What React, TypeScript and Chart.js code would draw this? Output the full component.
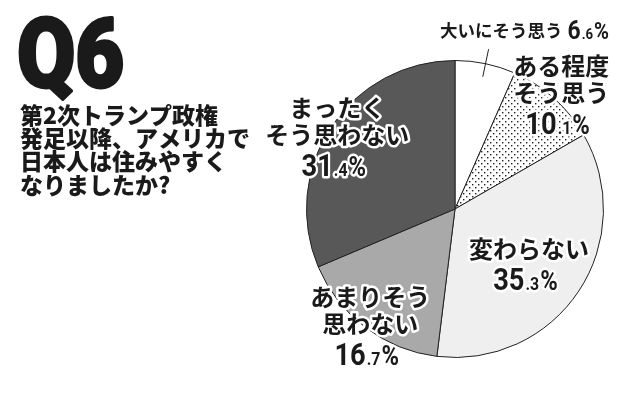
import React, { useEffect, useRef } from "react";
import { Chart, registerables } from "chart.js";

Chart.register(...registerables);

const categories = ["大いにそう思う", "ある程度そう思う", "変わらない", "あまりそう思わない", "まったくそう思わない"];
const values = [6.6, 10.1, 35.3, 16.7, 31.4];
const labelLines = [["大いにそう思う"], ["ある程度", "そう思う"], ["変わらない"], ["あまりそう", "思わない"], ["まったく", "そう思わない"]];
const sliceColors = ["#ffffff", "pattern", "#efefef", "#a9a9a9", "#585858"];
const titleText = "Q6";
const questionLines = ["第2次トランプ政権", "発足以降、アメリカで", "日本人は住みやすく", "なりましたか?"];

const JP = '"Noto Sans CJK JP", "Noto Sans", sans-serif';
const NUM = 'Roboto, "Liberation Sans", sans-serif';

function makePattern(): CanvasPattern | string {
  const c = document.createElement("canvas");
  c.width = 6;
  c.height = 6;
  const g = c.getContext("2d");
  if (!g) return "#ddd";
  g.fillStyle = "#ffffff";
  g.fillRect(0, 0, 6, 6);
  g.fillStyle = "#222";
  g.fillRect(1, 1, 1.4, 1.4);
  g.fillRect(4, 4, 1.4, 1.4);
  return g.createPattern(c, "repeat") || "#ddd";
}

function drawHalo(ctx: CanvasRenderingContext2D, text: string, x: number, y: number, halo: boolean) {
  if (halo) {
    ctx.save();
    ctx.strokeStyle = "#ffffff";
    ctx.lineWidth = 5;
    ctx.lineJoin = "round";
    ctx.strokeText(text, x, y);
    ctx.restore();
  }
  ctx.fillText(text, x, y);
}

function drawNumber(ctx: CanvasRenderingContext2D, v: number, cx: number, cy: number, halo: boolean, left = false, k = 1) {
  const s = v.toFixed(1);
  const [ip, dp] = s.split(".");
  const parts = [
    { t: ip, f: `bold ${Math.round(31 * k)}px ${NUM}` },
    { t: "." + dp, f: `bold ${Math.round(18 * k)}px ${NUM}` },
    { t: "%", f: `bold ${Math.round(27 * k)}px ${NUM}` },
  ];
  const sx = 0.88;
  let w = 0;
  for (const p of parts) {
    ctx.font = p.f;
    w += ctx.measureText(p.t).width * sx + 1;
  }
  ctx.save();
  ctx.textBaseline = "alphabetic";
  ctx.textAlign = "left";
  let x = left ? cx : cx - w / 2;
  const base = cy + 11 * k;
  for (const p of parts) {
    ctx.font = p.f;
    const pw = ctx.measureText(p.t).width;
    ctx.save();
    ctx.translate(x, base);
    ctx.scale(sx, 1);
    drawHalo(ctx, p.t, 0, 0, halo);
    ctx.restore();
    x += pw * sx + 1;
  }
  ctx.restore();
  return w;
}

// label placement: [radius factor, angle tweak in degrees]
const labelPlace = [
  [1.0, 0],
  [1.05, 1],
  [0.62, 3],
  [0.97, -1],
  [0.93, -2],
];

const overlayPlugin = {
  id: "overlay",
  afterDraw(chart: any) {
    const ctx: CanvasRenderingContext2D = chart.ctx;
    const meta = chart.getDatasetMeta(0);
    ctx.save();
    // title
    ctx.fillStyle = "#1a1a1a";
    ctx.textBaseline = "alphabetic";
    ctx.textAlign = "left";
    ctx.save();
    ctx.font = `900 96px ${NUM}`;
    ctx.translate(17, 87);
    ctx.scale(0.88, 1);
    ctx.strokeStyle = "#1a1a1a";
    ctx.lineWidth = 3;
    ctx.lineJoin = "round";
    ctx.strokeText(titleText, 0, 0);
    ctx.fillText(titleText, 0, 0);
    ctx.restore();
    // question
    ctx.font = `900 23px ${JP}`;
    ctx.textBaseline = "middle";
    questionLines.forEach((l, i) => {
      ctx.fillText(l, 20, 115 + i * 23.3);
    });

    // slice labels
    ctx.textAlign = "center";
    ctx.textBaseline = "middle";
    ctx.fillStyle = "#1a1a1a";
    meta.data.forEach((arc: any, i: number) => {
      const { x, y, startAngle, endAngle, outerRadius } = arc.getProps(["x", "y", "startAngle", "endAngle", "outerRadius"], true);
      const mid = (startAngle + endAngle) / 2 + (labelPlace[i][1] * Math.PI) / 180;
      const r = outerRadius * labelPlace[i][0];
      const ax = x + Math.cos(mid) * r;
      const ay = y + Math.sin(mid) * r;
      const lines = labelLines[i];
      if (i === 0) {
        // outside label with leader line
        const inner = outerRadius * 0.91;
        const outer = outerRadius * 1.1;
        ctx.strokeStyle = "#222";
        ctx.lineWidth = 1;
        ctx.beginPath();
        ctx.moveTo(x + Math.cos(mid) * inner, y + Math.sin(mid) * inner);
        ctx.lineTo(x + Math.cos(mid) * outer, y + Math.sin(mid) * outer);
        ctx.stroke();
        ctx.font = `bold 17.5px ${JP}`;
        ctx.textAlign = "left";
        const tx = x - 15;
        const ty = y + Math.sin(mid) * outerRadius * 1.23;
        drawHalo(ctx, lines[0], tx, ty, false);
        const tw = ctx.measureText(lines[0]).width;
        drawNumber(ctx, values[i], tx + tw + 5, ty - 1, false, true, 0.85);
        ctx.textAlign = "center";
        return;
      }
      const lh = 27;
      const total = lines.length * lh + 30;
      let ly = ay - total / 2 + lh / 2;
      ctx.font = `bold 24px ${JP}`;
      for (const l of lines) {
        drawHalo(ctx, l, ax, ly, true);
        ly += lh;
      }
      drawNumber(ctx, values[i], ax - 3, ly + 3, true);
    });
    ctx.restore();
  },
};

export default function App() {
  const ref = useRef<HTMLCanvasElement | null>(null);
  useEffect(() => {
    document.body.style.margin = "0";
    if (!ref.current) return;
    const pattern = makePattern();
    const bg = sliceColors.map((c) => (c === "pattern" ? pattern : c));
    const chart = new Chart(ref.current, {
      type: "pie",
      data: {
        labels: categories,
        datasets: [
          {
            data: values,
            backgroundColor: bg as any,
            borderColor: "#222",
            borderWidth: 1,
          },
        ],
      },
      options: {
        responsive: false,
        animation: false,
        layout: { padding: { left: 306, top: 60, right: 36, bottom: 35 } },
        plugins: { legend: { display: false }, tooltip: { enabled: false } },
      },
      plugins: [overlayPlugin],
    });
    return () => chart.destroy();
  }, []);
  return (
    <div style={{ width: 640, height: 393, background: "#fff" }}>
      <canvas ref={ref} width={640} height={393} style={{ width: 640, height: 393, display: "block" }} />
    </div>
  );
}
